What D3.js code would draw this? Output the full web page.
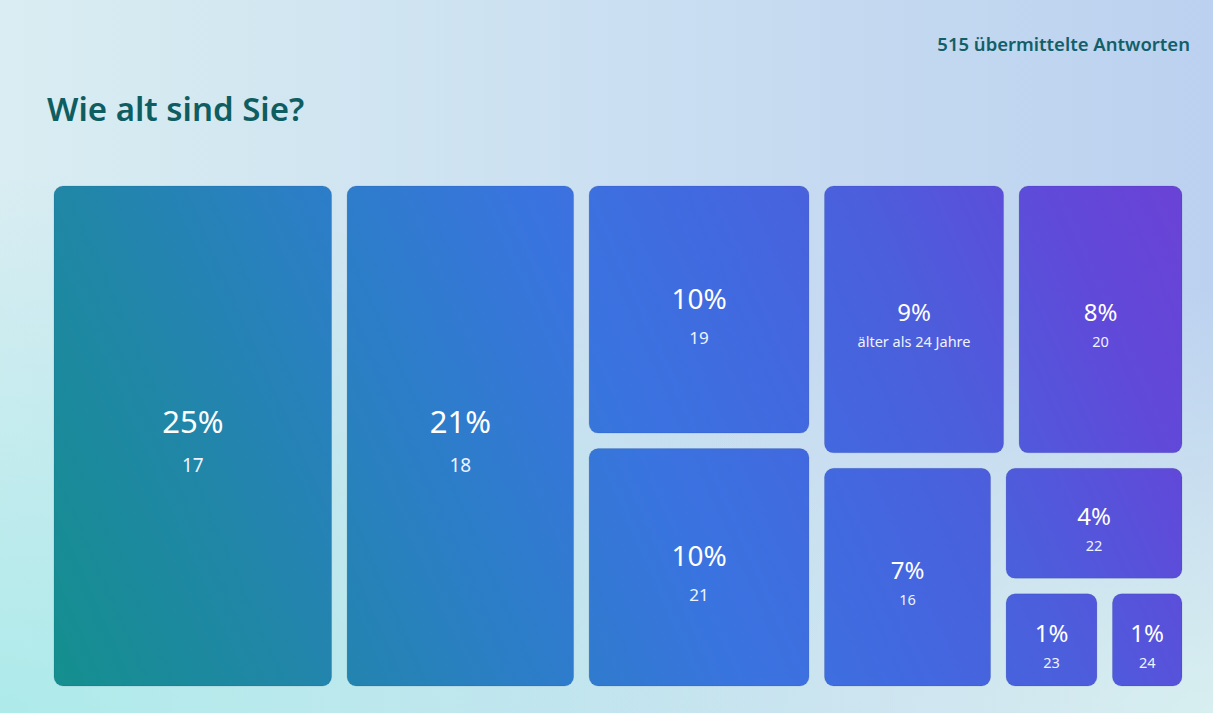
<!DOCTYPE html>
<html>
<head>
<meta charset="utf-8">
<script src="https://cdn.jsdelivr.net/npm/d3@7"></script>
<style>
  body { margin: 0; overflow: hidden; }
  svg { display: block; font-family: "Noto Sans", "Open Sans", sans-serif; }
</style>
</head>
<body>
<svg id="chart" width="1213" height="713"></svg>
<script>
// answers per age group
const ages = ['17', '18', '19', '21', 'älter als 24 Jahre', '20', '16', '22', '23', '24']
const counts = [132, 109, 54, 52, 48, 44, 37, 21, 10, 8]
const total = 515
const title = 'Wie alt sind Sie?'
const subtitle = `${total} übermittelte Antworten`

// how the tiles are nested (row = side by side, col = stacked)
const tiling = {
  dir: 'row',
  kids: ['17', '18',
    { dir: 'col', kids: ['19', '21'] },
    { dir: 'col', kids: [
      { dir: 'row', kids: ['älter als 24 Jahre', '20'] },
      { dir: 'row', kids: ['16', { dir: 'col', kids: ['22', { dir: 'row', kids: ['23', '24'] }] }] }
    ] }
  ]
}

const svg = d3.select('#chart')
const defs = svg.append('defs')

// background
const bg = defs.append('linearGradient').attr('id', 'bg')
  .attr('x1', 0).attr('y1', 0).attr('x2', 1).attr('y2', 0)
bg.append('stop').attr('offset', 0).attr('stop-color', '#d9edf2')
bg.append('stop').attr('offset', 0.55).attr('stop-color', '#c9def1')
bg.append('stop').attr('offset', 1).attr('stop-color', '#bcd1ef')

const glowBL = defs.append('radialGradient').attr('id', 'glowBL')
  .attr('cx', 0).attr('cy', 1).attr('r', 0.75)
glowBL.append('stop').attr('offset', 0).attr('stop-color', '#aeeaea').attr('stop-opacity', 1)
glowBL.append('stop').attr('offset', 1).attr('stop-color', '#aeeaea').attr('stop-opacity', 0)

const glowBR = defs.append('radialGradient').attr('id', 'glowBR')
  .attr('cx', 1).attr('cy', 1).attr('r', 0.6)
glowBR.append('stop').attr('offset', 0).attr('stop-color', '#d8eff0').attr('stop-opacity', 1)
glowBR.append('stop').attr('offset', 1).attr('stop-color', '#d8eff0').attr('stop-opacity', 0)

svg.append('rect').attr('width', 1213).attr('height', 713).attr('fill', 'url(#bg)')
svg.append('rect').attr('width', 1213).attr('height', 713).attr('fill', 'url(#glowBR)')
svg.append('rect').attr('width', 1213).attr('height', 713).attr('fill', 'url(#glowBL)')

// titles
svg.append('text')
  .attr('x', 47).attr('y', 121)
  .attr('font-size', 33).attr('font-weight', 600)
  .attr('fill', '#0e5d60')
  .text(title)

svg.append('text')
  .attr('x', 1190).attr('y', 51)
  .attr('text-anchor', 'end')
  .attr('font-size', 18.5).attr('font-weight', 600)
  .attr('fill', '#125f68')
  .text(subtitle)

// treemap
const mapLeft = 54
const mapTop = 186
const mapWidth = 1128
const mapHeight = 500

const fill = defs.append('linearGradient').attr('id', 'tileFill')
  .attr('gradientUnits', 'userSpaceOnUse')
  .attr('x1', mapLeft).attr('y1', mapTop + mapHeight)
  .attr('x2', mapLeft + mapWidth).attr('y2', mapTop)
const fillStops = [
  [0, '#148f8e'], [0.18, '#2186a8'], [0.37, '#2d7dca'], [0.52, '#3a73e0'],
  [0.67, '#4466df'], [0.76, '#4c5edc'], [0.9, '#6049d9'], [1, '#6a42d6']
]
fill.selectAll('stop')
  .data(fillStops)
  .enter()
  .append('stop')
  .attr('offset', d => d[0])
  .attr('stop-color', d => d[1])

const isLeaf = d => typeof d === 'string'

const root = d3.hierarchy(tiling, d => isLeaf(d) ? null : d.kids)
  .sum(d => isLeaf(d) ? counts[ages.indexOf(d)] : 0)

d3.treemap()
  .size([mapWidth, mapHeight])
  .paddingInner(15.5)
  .tile((node, x0, y0, x1, y1) => {
    const tile = node.data.dir === 'col' ? d3.treemapSlice : d3.treemapDice
    tile(node, x0, y0, x1, y1)
  })(root)

const percent = v => `${Math.floor(v / total * 100)}%`

const textStyle = (w) => {
  if (w >= 225) return { pct: 31, label: 19, dy: -3, gap: 39 }
  if (w >= 200) return { pct: 28, label: 17, dy: -1, gap: 35 }
  return { pct: 24, label: 14.5, dy: 2, gap: 26 }
}

const cx = d => mapLeft + (d.x0 + d.x1) / 2
const cy = d => mapTop + (d.y0 + d.y1) / 2

const tiles = svg.append('g')
  .selectAll('g')
  .data(root.leaves())
  .enter()
  .append('g')

tiles.append('rect')
  .attr('x', d => mapLeft + d.x0)
  .attr('y', d => mapTop + d.y0)
  .attr('width', d => d.x1 - d.x0)
  .attr('height', d => d.y1 - d.y0)
  .attr('rx', 9)
  .attr('fill', 'url(#tileFill)')
  .attr('stroke', 'rgba(20,40,90,0.12)')
  .attr('stroke-width', 1)

tiles.append('text')
  .attr('x', cx)
  .attr('y', d => cy(d) + textStyle(d.x1 - d.x0).dy)
  .attr('text-anchor', 'middle')
  .attr('fill', '#ffffff')
  .attr('font-size', d => textStyle(d.x1 - d.x0).pct)
  .text(d => percent(d.value))

tiles.append('text')
  .attr('x', cx)
  .attr('y', d => {
    const s = textStyle(d.x1 - d.x0)
    return cy(d) + s.dy + s.gap
  })
  .attr('text-anchor', 'middle')
  .attr('fill', '#eef3ff')
  .attr('font-size', d => textStyle(d.x1 - d.x0).label)
  .text(d => d.data)
</script>
</body>
</html>
